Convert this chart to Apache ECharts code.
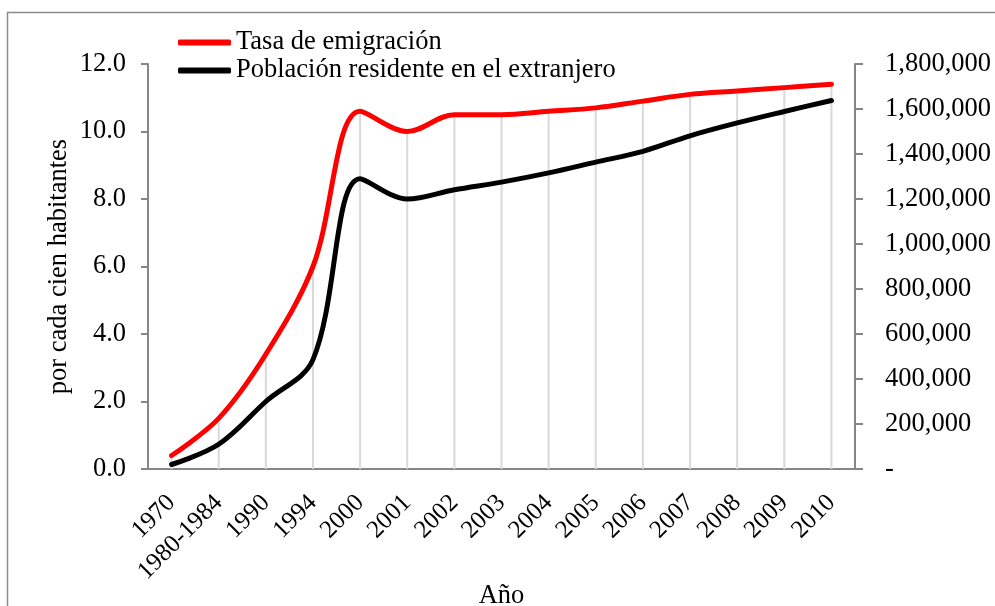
<!DOCTYPE html>
<html>
<head>
<meta charset="utf-8">
<script src="https://cdn.jsdelivr.net/npm/echarts@6/dist/echarts.min.js"></script>
<style>
html,body{margin:0;padding:0;background:#fff;}
#c{width:995px;height:606px;}
</style>
</head>
<body>
<div id="c"></div>
<script>
const categories = ['1970','1980-1984','1990','1994','2000','2001','2002','2003','2004','2005','2006','2007','2008','2009','2010'];
const tasaEmigracion = [0.4, 1.5, 3.4, 6.0, 10.6, 10.0, 10.5, 10.5, 10.6, 10.7, 10.9, 11.1, 11.2, 11.3, 11.4];
const poblacionExtranjero = [20000, 110000, 300000, 486000, 1290000, 1200000, 1241000, 1275000, 1316000, 1364000, 1412000, 1481000, 1538000, 1589000, 1638000];
const leftTicks = [0, 12, 2];
const rightTicks = [0, 1800000, 200000];

const FONT = '"Liberation Serif", "DejaVu Serif", serif';
const FS = 26.5;
const chart = echarts.init(document.getElementById('c'), null, {renderer: 'canvas'});
const axisGray = '#868686';

chart.setOption({
  animation: false,
  backgroundColor: '#fff',
  textStyle: {fontFamily: FONT, color: '#000'},
  graphic: [{
    type: 'rect', silent: true,
    shape: {x: 7.5, y: 12.5, width: 1000, height: 700},
    style: {fill: 'none', stroke: '#8c8c8c', lineWidth: 1.5}
  }],
  legend: {
    orient: 'vertical', left: 173, top: 24,
    data: ['Tasa de emigración', 'Población residente en el extranjero'],
    icon: 'roundRect', itemWidth: 53, itemHeight: 6, itemGap: 1,
    textStyle: {fontFamily: FONT, fontSize: FS, color: '#000', lineHeight: 27}
  },
  grid: {left: 148, right: 140, top: 64, bottom: 137, containLabel: false, outerBoundsMode: 'none'},
  xAxis: {
    type: 'category', data: categories, boundaryGap: true,
    name: 'Año', nameLocation: 'middle', nameGap: 127, nameMoveOverlap: false,
    nameTextStyle: {fontFamily: FONT, fontSize: FS, color: '#000', verticalAlign: 'middle'},
    axisLine: {lineStyle: {color: axisGray, width: 2}},
    axisTick: {show: false},
    axisLabel: {rotate: 45, margin: 30, fontFamily: FONT, fontSize: 25, color: '#000', interval: 0},
    splitLine: {show: false}
  },
  yAxis: [{
    type: 'value', min: leftTicks[0], max: leftTicks[1], interval: leftTicks[2],
    name: 'por cada cien habitantes', nameLocation: 'middle', nameGap: 75, nameRotate: 90,
    nameMoveOverlap: false,
    nameTextStyle: {fontFamily: FONT, fontSize: FS, color: '#000'},
    axisLine: {show: true, lineStyle: {color: axisGray, width: 2}},
    axisTick: {show: true, inside: false, length: 7, lineStyle: {color: axisGray, width: 2}},
    axisLabel: {margin: 22, fontFamily: FONT, fontSize: FS, color: '#000', formatter: v => v.toFixed(1)},
    splitLine: {show: false}
  }, {
    type: 'value', min: rightTicks[0], max: rightTicks[1], interval: rightTicks[2], position: 'right',
    axisLine: {show: true, lineStyle: {color: axisGray, width: 2}},
    axisTick: {show: true, inside: false, length: 8, lineStyle: {color: axisGray, width: 2}},
    axisLabel: {margin: 30, fontFamily: FONT, fontSize: FS, color: '#000',
      formatter: v => v === 0 ? '-' : v.toLocaleString('en-US')},
    splitLine: {show: false}
  }],
  series: [{
    name: 'drop', type: 'bar', yAxisIndex: 0, data: tasaEmigracion,
    barWidth: 2, itemStyle: {color: '#d9d9d9'}, z: 1, silent: true
  }, {
    name: 'Tasa de emigración', type: 'line', yAxisIndex: 0, data: tasaEmigracion,
    smooth: 0.35, showSymbol: false, symbol: 'none',
    lineStyle: {color: '#ff0000', width: 5, cap: 'round'}, itemStyle: {color: '#ff0000'}, z: 3
  }, {
    name: 'Población residente en el extranjero', type: 'line', yAxisIndex: 1, data: poblacionExtranjero,
    smooth: 0.35, showSymbol: false, symbol: 'none',
    lineStyle: {color: '#000000', width: 5, cap: 'round'}, itemStyle: {color: '#000000'}, z: 3
  }]
});
</script>
</body>
</html>
